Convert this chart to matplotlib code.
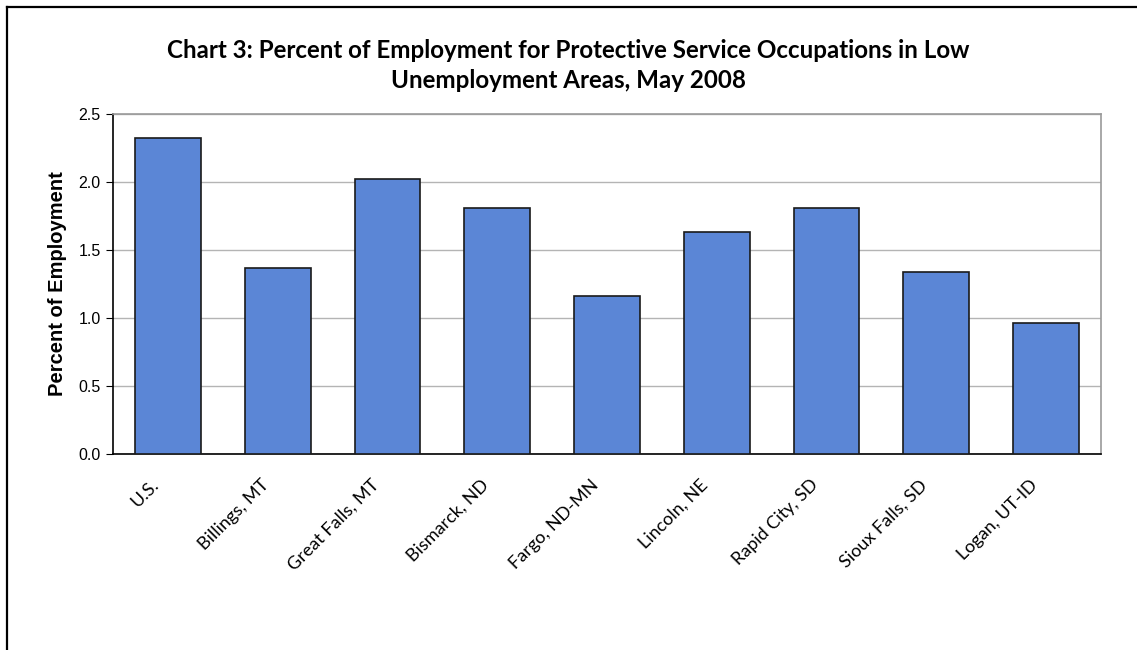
import matplotlib
matplotlib.use("Agg")
import matplotlib.pyplot as plt
from matplotlib.lines import Line2D
from matplotlib.transforms import ScaledTranslation

categories = ["U.S.", "Billings, MT", "Great Falls, MT", "Bismarck, ND", "Fargo, ND-MN",
              "Lincoln, NE", "Rapid City, SD", "Sioux Falls, SD", "Logan, UT-ID"]
values = [2.32, 1.37, 2.02, 1.81, 1.16, 1.63, 1.81, 1.34, 0.96]
yticks = [0.0, 0.5, 1.0, 1.5, 2.0, 2.5]
ytick_labels = ["0.0", "0.5", "1.0", "1.5", "2.0", "2.5"]

fig = plt.figure(figsize=(11.37, 6.5), dpi=100)
ax = fig.add_axes([113/1137, 1-454/650, (1101-113)/1137, (454-114)/650])

x = list(range(len(categories)))
ax.bar(x, values, width=0.6, color="#5B86D6", edgecolor="#1a1a1a", linewidth=1.2, zorder=3)
ax.set_xlim(-0.5, len(categories) - 0.5)
ax.set_ylim(0, 2.5)
ax.set_yticks(yticks)
ax.set_yticklabels(ytick_labels, fontfamily="Liberation Sans", fontsize=11.5)
ax.yaxis.grid(True, color="#b4b4b4", linewidth=1, zorder=0)
ax.set_xticks(x)
ax.set_xticklabels(categories, rotation=45, ha="right", rotation_mode="anchor",
                   fontfamily="Lato", fontsize=13)
ax.tick_params(axis="x", length=0, pad=16.5)
offset = ScaledTranslation(-17/100, 0, fig.dpi_scale_trans)
for lab in ax.get_xticklabels():
    lab.set_transform(lab.get_transform() + offset)
ax.tick_params(axis="y", length=5, direction="out", color="black", pad=4)
for s in ["left", "bottom"]:
    ax.spines[s].set_color("black")
    ax.spines[s].set_linewidth(1.2)
for s in ["top", "right"]:
    ax.spines[s].set_color("#9a9a9a")
    ax.spines[s].set_linewidth(1.2)
ax.set_ylabel("Percent of Employment", fontfamily="Liberation Sans", fontweight="bold",
              fontsize=14.5, labelpad=8)

fig.text(0.5, 1-50/650, "Chart 3: Percent of Employment for Protective Service Occupations in Low",
         ha="center", va="center", fontfamily="Lato", fontweight="bold", fontsize=17.4)
fig.text(0.5, 1-81/650, "Unemployment Areas, May 2008",
         ha="center", va="center", fontfamily="Lato", fontweight="bold", fontsize=17.4)

# outer chart border (left and top)
fig.add_artist(Line2D([7/1137, 7/1137], [0, 1-7/650], transform=fig.transFigure, color="black", linewidth=1.6))
fig.add_artist(Line2D([7/1137, 1], [1-7/650, 1-7/650], transform=fig.transFigure, color="black", linewidth=1.6))

fig.savefig("out.png", dpi=100)
